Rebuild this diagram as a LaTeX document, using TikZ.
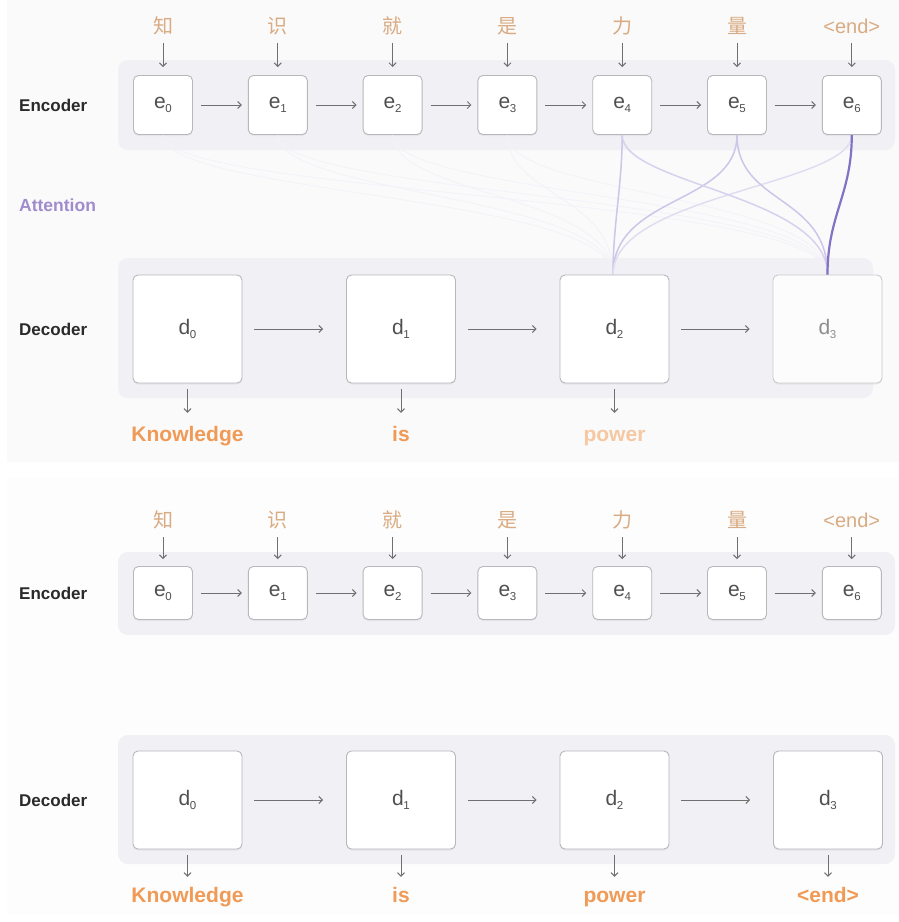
\documentclass[tikz,border=0pt]{standalone}
\usepackage{fontspec}
\setmainfont{Liberation Sans}
\newfontfamily\cjk{Noto Sans CJK SC}
\usetikzlibrary{arrows.meta,shadows}
\definecolor{panelA}{HTML}{FAFAFB}
\definecolor{panelB}{HTML}{FDFDFD}
\definecolor{band}{HTML}{F0F0F5}
\definecolor{boxline}{HTML}{B8B8BC}
\definecolor{boxtext}{HTML}{505050}
\definecolor{arrowc}{HTML}{707070}
\definecolor{tan}{HTML}{D9AB82}
\definecolor{orangeT}{HTML}{F09A55}
\definecolor{fadeorange}{HTML}{F6C8A2}
\definecolor{purpleT}{HTML}{A08CCC}
\definecolor{attlight}{HTML}{CDC6E8}
\definecolor{attstrong}{HTML}{8473C4}
\definecolor{attfaint}{HTML}{F3F2F8}
\definecolor{labelc}{HTML}{2A2A2A}
\newcommand\lsub[1]{\kern-0.3pt\raisebox{-0.4ex}{\fontsize{11.5}{11.5}\selectfont #1}}
\begin{document}
\begin{tikzpicture}[x=1pt,y=-1pt,
  box/.style={draw=boxline, fill=white, rounded corners=5pt, line width=0.9pt,
    drop shadow={shadow xshift=0pt,shadow yshift=-1.5pt,opacity=0.10},
    text=boxtext, font=\fontsize{21}{21}\selectfont, inner sep=0pt},
  ebox/.style={box, minimum width=59pt, minimum height=59pt},
  ebox2/.style={box, minimum width=59pt, minimum height=53pt},
  dbox/.style={box, minimum width=109pt, minimum height=108pt},
  dbox2/.style={box, minimum width=109pt, minimum height=98pt},
  fadedbox/.style={dbox, fill=white!96!boxline, draw=boxline!75, text=boxtext!65},
  inlab/.style={text=tan, font=\fontsize{20}{20}\selectfont, inner sep=0pt, text height=15pt, text depth=3pt},
  outlab/.style={text=orangeT, font=\bfseries\fontsize{21}{21}\selectfont, inner sep=0pt, text height=16pt, text depth=4pt},
  sidelab/.style={text=labelc, font=\bfseries\fontsize{17}{17}\selectfont, anchor=west, inner sep=0pt},
  arr/.style={draw=arrowc, line width=1pt, -{Straight Barb[length=3.5pt,width=7pt]}},
  attl/.style={draw=attlight, line width=1.5pt},
  atts/.style={draw=attstrong, line width=2.2pt},
  attf/.style={draw=attfaint, line width=0.8pt}
]
\useasboundingbox (0,0) rectangle (899,922);
\fill[white] (0,0) rectangle (899,922);
\fill[panelA] (7,0) rectangle (899,462);
\fill[panelB] (7,478) rectangle (899,915);
% bands
\fill[band, rounded corners=10pt] (118,60) rectangle (895,150);
\fill[band, rounded corners=10pt] (118,258) rectangle (873,398);
\fill[band, rounded corners=10pt] (118,552) rectangle (895,635);
\fill[band, rounded corners=10pt] (118,735) rectangle (895,864);

% side labels
\node[sidelab] (encT) at (19,105) {Encoder};
\node[sidelab, text=purpleT, font=\bfseries\fontsize{17.5}{17.5}\selectfont] (attT) at (19,205) {Attention};
\node[sidelab] (decT) at (19,329) {Decoder};
\node[sidelab] (encB) at (19,593) {Encoder};
\node[sidelab] (decB) at (19,800) {Decoder};

% encoder nodes
\foreach \i/\ch in {0/{\cjk 知},1/{\cjk 识},2/{\cjk 就},3/{\cjk 是},4/{\cjk 力},5/{\cjk 量},6/{<end>}} {
  \node[ebox] (te\i) at ({163+114.8*\i},105) {e\lsub{\i}};
  \node[inlab] (tl\i) at ({163+114.8*\i},27) {\ch};
  \draw[arr, shorten <=7pt, shorten >=8pt] (tl\i) -- (te\i);
  \node[ebox2] (be\i) at ({163+114.8*\i},593) {e\lsub{\i}};
  \node[inlab] (bl\i) at ({163+114.8*\i},521) {\ch};
  \draw[arr, shorten <=7pt, shorten >=7pt] (bl\i) -- (be\i);
}
\foreach \i [evaluate=\i as \j using int(\i+1)] in {0,...,5} {
  \draw[arr, shorten <=8pt, shorten >=6pt] (te\i) -- (te\j);
  \draw[arr, shorten <=8pt, shorten >=6pt] (be\i) -- (be\j);
}

% attention curves (faint)
\foreach \i in {0,1,2,3} {
  \draw[attf] (te\i.south) .. controls +(0,60) and +(0,-80) .. (613,275);
  \draw[attf] (te\i.south) .. controls +(0,60) and +(0,-80) .. (828,275);
}

% decoder nodes (top)
\node[dbox] (td0) at (187.5,329) {d\lsub{0}};
\node[dbox] (td1) at (401,329) {d\lsub{1}};
\node[dbox] (td2) at (614.5,329) {d\lsub{2}};
\node[fadedbox] (td3) at (827.5,329) {d\lsub{3}};
\draw[arr, shorten <=12pt, shorten >=23pt] (td0) -- (td1);
\draw[arr, shorten <=12pt, shorten >=23pt] (td1) -- (td2);
\draw[arr, shorten <=12pt, shorten >=23pt] (td2) -- (td3);
\node[outlab] (to0) at (187.5,435) {Knowledge};
\node[outlab] (to1) at (401,435) {is};
\node[outlab, text=fadeorange] (to2) at (614.5,435) {power};
\draw[arr, shorten <=6pt, shorten >=12pt] (td0) -- (to0);
\draw[arr, shorten <=6pt, shorten >=12pt] (td1) -- (to1);
\draw[arr, shorten <=6pt, shorten >=12pt] (td2) -- (to2);

% attention curves
\draw[attl] (te4.south) .. controls +(0,50) and +(0,-50) .. ([xshift=-1.5pt]td2.north);
\draw[attl] (te5.south) .. controls +(0,70) and +(0,-80) .. ([xshift=-1.5pt]td2.north);
\draw[attl, draw=attlight!60] (te6.south) .. controls +(0,50) and +(0,-80) .. ([xshift=-1.5pt]td2.north);
\draw[attl, draw=attlight!80] (te4.south) .. controls +(0,50) and +(0,-80) .. (td3.north);
\draw[attl] (te5.south) .. controls +(0,70) and +(0,-80) .. (td3.north);
\draw[atts] (te6.south) .. controls +(0,60) and +(0,-60) .. (td3.north);

% decoder nodes (bottom)
\node[dbox2] (bd0) at (187.5,800) {d\lsub{0}};
\node[dbox2] (bd1) at (401,800) {d\lsub{1}};
\node[dbox2] (bd2) at (614.5,800) {d\lsub{2}};
\node[dbox2] (bd3) at (828,800) {d\lsub{3}};
\draw[arr, shorten <=12pt, shorten >=23pt] (bd0) -- (bd1);
\draw[arr, shorten <=12pt, shorten >=23pt] (bd1) -- (bd2);
\draw[arr, shorten <=12pt, shorten >=23pt] (bd2) -- (bd3);
\node[outlab] (bo0) at (187.5,896) {Knowledge};
\node[outlab] (bo1) at (401,896) {is};
\node[outlab] (bo2) at (614.5,896) {power};
\node[outlab] (bo3) at (828,896) {<end>};
\foreach \i in {0,1,2,3} {
  \draw[arr, shorten <=6pt, shorten >=9pt] (bd\i) -- (bo\i);
}
\end{tikzpicture}
\end{document}
